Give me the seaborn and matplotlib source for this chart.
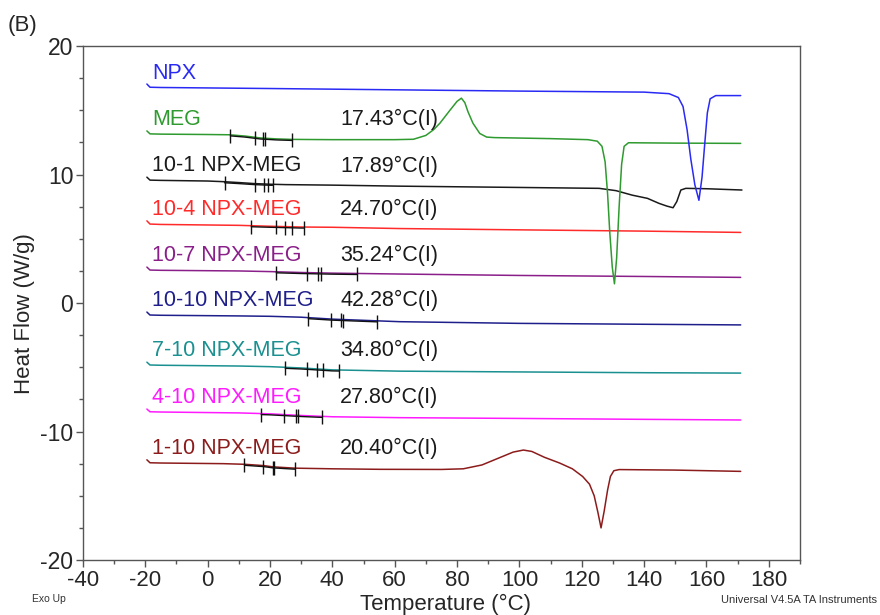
import numpy as np
import pandas as pd
import matplotlib
matplotlib.use("Agg")
import matplotlib.pyplot as plt
import seaborn as sns

# ---------------- data ----------------
samples = ["NPX", "MEG", "10-1 NPX-MEG", "10-4 NPX-MEG", "10-7 NPX-MEG",
           "10-10 NPX-MEG", "7-10 NPX-MEG", "4-10 NPX-MEG", "1-10 NPX-MEG"]
colors = ["#2a2af5", "#2f9a2f", "#1a1a1a", "#ff2a2a", "#8a1f8a",
          "#1f1f8c", "#1a9090", "#ff1aff", "#8c1c1c"]

npx_T = [-19.5, -18.5, -15, 20, 60, 100, 140, 148, 151, 152.5, 153.8, 155,
         156.3, 157.6, 158.6, 159.5, 160.3, 161.2, 163, 171]
npx_HF = [17.05, 16.8, 16.78, 16.7, 16.6, 16.5, 16.42, 16.3, 16.0, 15.3, 13.5,
          11.2, 9.2, 8.0, 9.8, 12.5, 14.8, 15.9, 16.15, 16.15]

meg_T = [-19.5, -18.5, -15, 0, 7, 12, 17, 22, 27, 40, 60, 66, 70, 72.5, 74.5,
         77.7, 80, 81.4, 82.5, 83.5, 85.1, 87.3, 89.5, 92, 110, 122, 125, 126.5,
         127.5, 128.3, 129.0, 129.8, 130.5, 131.2, 132.0, 132.8, 133.6, 135, 150, 171]
meg_HF = [13.4, 13.17, 13.15, 13.12, 13.1, 13.0, 12.85, 12.78, 12.74, 12.72, 12.72,
          12.75, 13.05, 13.5, 14.0, 15.0, 15.7, 15.95, 15.6, 14.9, 14.0, 13.2, 12.92,
          12.88, 12.8, 12.72, 12.6, 12.2, 11.0, 8.5, 5.5, 2.8, 1.5, 3.5, 7.5, 10.8,
          12.2, 12.48, 12.45, 12.43]

m10_1_T = [-19.5, -18.5, -15, 0, 5, 10, 15, 20, 25, 40, 61.7, 100, 125.6, 131,
           136.2, 141.1, 144.8, 147.3, 149.3, 150.5, 151.8, 153.4, 160, 171.4]
m10_1_HF = [9.8, 9.57, 9.55, 9.5, 9.45, 9.38, 9.3, 9.25, 9.22, 9.18, 9.1, 9.0,
            8.93, 8.75, 8.4, 8.15, 7.76, 7.55, 7.42, 7.9, 8.8, 8.93, 8.9, 8.8]

flat_T = [-19.5, -18.5, -15, 10, 20, 30, 40, 61.7, 100, 140, 171]
m10_4_HF = [6.4, 6.15, 6.12, 6.05, 5.98, 5.92, 5.9, 5.8, 5.7, 5.6, 5.5]
m10_7_HF = [2.8, 2.57, 2.55, 2.5, 2.45, 2.38, 2.33, 2.26, 2.15, 2.07, 2.0]
m10_10_HF = [-0.7, -0.93, -0.95, -1.0, -1.03, -1.1, -1.25, -1.45, -1.58, -1.65, -1.7]
m7_10_HF = [-4.6, -4.82, -4.84, -4.9, -4.95, -5.05, -5.2, -5.3, -5.36, -5.42, -5.45]
m4_10_HF = [-8.25, -8.46, -8.48, -8.55, -8.62, -8.75, -8.85, -8.92, -8.98, -9.05, -9.1]

m1_10_T = [-19.5, -18.5, -15, 5, 12, 18, 21, 28, 40, 55.3, 75, 82, 88, 94, 98,
           101.3, 104, 108, 112.9, 117, 120.3, 122.5, 124, 125.2, 126.2, 127.2,
           128.3, 129.2, 130.3, 132, 150, 171]
m1_10_HF = [-12.2, -12.43, -12.45, -12.5, -12.55, -12.65, -12.75, -12.85, -12.9,
            -12.94, -12.95, -12.9, -12.6, -12.0, -11.6, -11.44, -11.55, -12.0,
            -12.45, -12.9, -13.5, -14.1, -15.0, -16.3, -17.5, -16.2, -14.55,
            -13.5, -13.05, -12.96, -13.0, -13.1]

curves_T = [npx_T, meg_T, m10_1_T, flat_T, flat_T, flat_T, flat_T, flat_T, m1_10_T]
curves_HF = [npx_HF, meg_HF, m10_1_HF, m10_4_HF, m10_7_HF, m10_10_HF,
             m7_10_HF, m4_10_HF, m1_10_HF]

# glass-transition analysis markers (temperatures, degC) and Tg values
tg_marks = [None,
            [7.3, 15.3, 17.9, 18.5, 27.2],
            [5.4, 15.3, 18.2, 19.2, 20.8],
            [14.0, 22.0, 24.9, 27.2, 31.0],
            [22.0, 32.0, 35.5, 36.4, 47.9],
            [32.3, 39.6, 42.8, 43.5, 54.3],
            [24.9, 32.0, 35.2, 37.1, 42.2],
            [17.2, 24.6, 28.4, 29.1, 36.8],
            [11.8, 17.9, 20.8, 21.4, 28.1]]
tg_values = [None, 17.43, 17.89, 24.70, 35.24, 42.28, 34.80, 27.80, 20.40]

x_ticks = [-40, -20, 0, 20, 40, 60, 80, 100, 120, 140, 160, 180]
y_ticks = [-20, -10, 0, 10, 20]

# ---------------- build long table ----------------
rows = []
for name, T, HF in zip(samples, curves_T, curves_HF):
    for t, h in zip(T, HF):
        rows.append((name, t, h))
df = pd.DataFrame(rows, columns=["sample", "T", "HF"])

# ---------------- plot ----------------
sns.set_style("ticks")
plt.rcParams["font.family"] = ["Liberation Sans", "DejaVu Sans"]
plt.rcParams["axes.unicode_minus"] = False

fig = plt.figure(figsize=(8.8, 6.15), dpi=100)
ax = fig.add_axes([0.0943, 0.0894, 0.8147, 0.8356])

sns.lineplot(data=df, x="T", y="HF", hue="sample",
             hue_order=samples[::-1], palette=dict(zip(samples, colors)),
             sort=False, estimator=None, legend=False, lw=1.1, ax=ax)

for i, name in enumerate(samples):
    T = np.array(curves_T[i]); HF = np.array(curves_HF[i])
    ax.text(-17.8, HF[1] + 1.1, name, color=colors[i], fontsize=15.5,
            ha="left", va="center")
    marks = tg_marks[i]
    if marks is None:
        continue
    lo, hi = marks[0], marks[-1]
    inside = (T > lo) & (T < hi)
    segT = np.concatenate([[lo], T[inside], [hi]])
    segH = np.interp(segT, T, HF) - 0.08
    ax.plot(segT, segH, color="#111111", lw=1.0)
    mh = np.interp(marks, T, HF) - 0.08
    ax.plot(marks, mh, ls="none", marker="|", ms=10, mew=1.0, color="#111111")
    ax.text(42.5, HF[1] + 1.1, f"{tg_values[i]:.2f}°C(I)", color="#1a1a1a",
            fontsize=15.5, ha="left", va="center")

ax.set_xlim(-40, 190)
ax.set_ylim(-20, 20)
ax.set_xticks(x_ticks)
ax.set_xticks(np.arange(-40, 191, 10), minor=True)
ax.set_yticks(y_ticks)
ax.set_yticks(np.arange(-20, 20.1, 2.5), minor=True)
ax.set_xticklabels([str(v) for v in x_ticks], fontsize=16)
ax.set_yticklabels([str(v) for v in y_ticks], fontsize=16.5)
ax.tick_params(axis="both", which="major", length=5, width=1,
               color="#555555", pad=2)
ax.tick_params(axis="both", which="minor", length=3, width=1, color="#555555")
for s in ax.spines.values():
    s.set_color("#555555")
    s.set_linewidth(1.0)
ax.set_xlabel("Temperature (°C)", fontsize=16)
ax.set_ylabel("Heat Flow (W/g)", fontsize=16)
ax.xaxis.set_label_coords(0.505, -0.066)
ax.yaxis.set_label_coords(-0.067, 0.48)

fig.text(0.009, 0.958, "(B)", fontsize=16, ha="left", va="center")
fig.text(0.036, 0.026, "Exo Up", fontsize=7.5, ha="left", va="center",
         color="#333333")
fig.text(0.997, 0.025, "Universal V4.5A TA Instruments", fontsize=8,
         ha="right", va="center", color="#333333")

fig.savefig("out.png", dpi=100)
